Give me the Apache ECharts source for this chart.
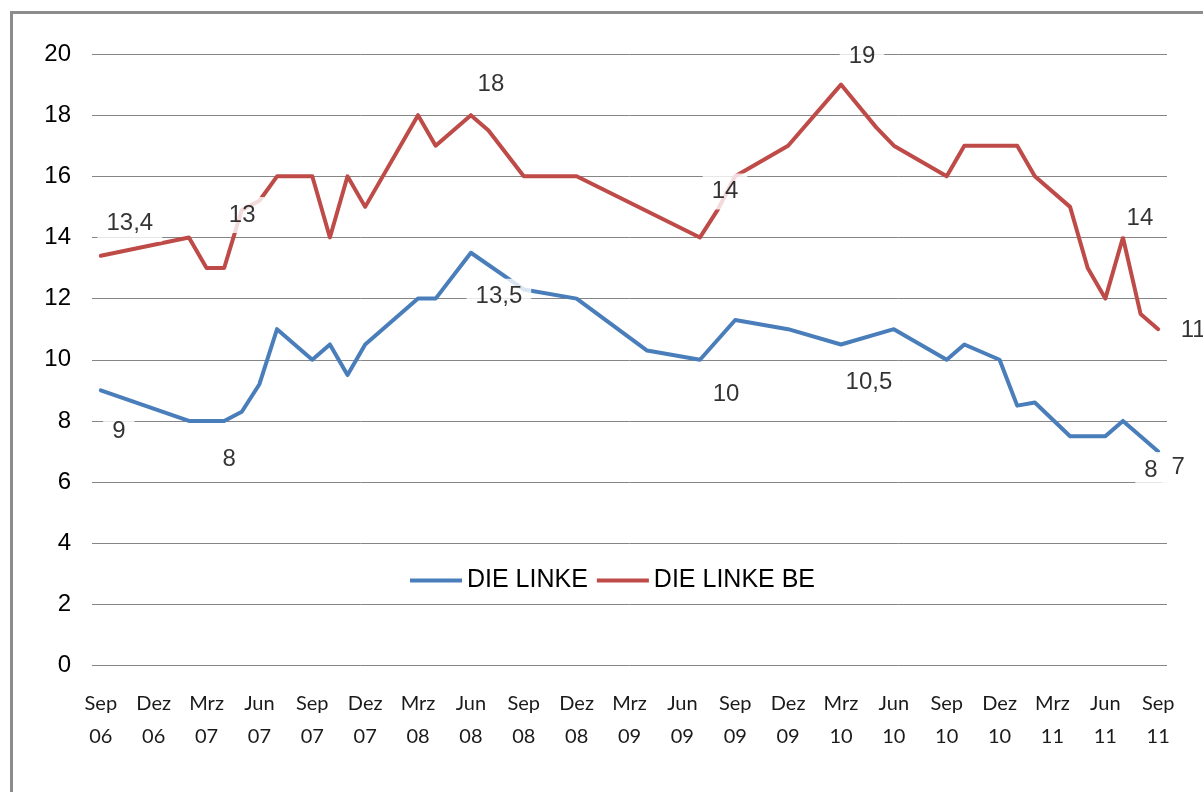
<!DOCTYPE html>
<html>
<head>
<meta charset="utf-8">
<script src="https://cdn.jsdelivr.net/npm/echarts@6/dist/echarts.min.js"></script>
<style>
  html, body { margin: 0; padding: 0; overflow: hidden; background: #fff; }
  #mychart { width: 1203px; height: 792px; }
  #rahmen { position: absolute; left: 10px; top: 11px; width: 1300px; height: 900px;
            border: 3px solid #8c8c8c; pointer-events: none; }
</style>
</head>
<body>
<div id="mychart"></div>
<div id="rahmen"></div>
<script>
// Monatsachse Sep 06 .. Sep 11
var monate = ['Jan', 'Feb', 'Mrz', 'Apr', 'Mai', 'Jun', 'Jul', 'Aug', 'Sep', 'Okt', 'Nov', 'Dez']
var startJahr = 2006, startMonat = 9, anzahlMonate = 61

// DIE LINKE (bundesweit)
var linkeMonate = ['2006-09', '2007-02', '2007-04', '2007-05', '2007-06', '2007-07', '2007-09', '2007-10',
  '2007-11', '2007-12', '2008-03', '2008-04', '2008-06', '2008-09', '2008-12', '2009-04', '2009-07',
  '2009-09', '2009-12', '2010-03', '2010-06', '2010-09', '2010-10', '2010-12', '2011-01', '2011-02',
  '2011-04', '2011-06', '2011-07', '2011-09']
var linkeWerte = [9, 8, 8, 8.3, 9.2, 11, 10, 10.5,
  9.5, 10.5, 12, 12, 13.5, 12.3, 12, 10.3, 10,
  11.3, 11, 10.5, 11, 10, 10.5, 10, 8.5, 8.6,
  7.5, 7.5, 8, 7]

// DIE LINKE Berlin
var linkeBeMonate = ['2006-09', '2007-02', '2007-03', '2007-04', '2007-05', '2007-06', '2007-07', '2007-09',
  '2007-10', '2007-11', '2007-12', '2008-03', '2008-04', '2008-06', '2008-07', '2008-09', '2008-12',
  '2009-07', '2009-08', '2009-09', '2009-12', '2010-03', '2010-05', '2010-06', '2010-09', '2010-10',
  '2011-01', '2011-02', '2011-04', '2011-05', '2011-06', '2011-07', '2011-08', '2011-09']
var linkeBeWerte = [13.4, 14, 13, 13, 14.9, 15.2, 16, 16,
  14, 16, 15, 18, 17, 18, 17.5, 16, 16,
  14, 14.9, 16, 17, 19, 17.6, 17, 16, 17,
  17, 16, 15, 13, 12, 14, 11.5, 11]

// beschriftete Punkte: Monat -> Versatz der Beschriftung [dx, dy]
var linkeLabels = {
  '2006-09': [18, 41], '2007-04': [5, 38], '2008-06': [28, 44], '2009-07': [26, 35],
  '2010-03': [28, 38], '2011-07': [28, 49], '2011-09': [20, 16]
}
var linkeBeLabels = {
  '2006-09': [29, -32], '2007-04': [18, -53], '2008-06': [20, -31], '2009-07': [25, -46],
  '2010-03': [21, -28], '2011-07': [17, -19], '2011-09': [35, 1]
}

var kategorien = []
for (var k = 0; k < anzahlMonate; k++) {
  var m = (startMonat - 1 + k) % 12
  var j = startJahr + Math.floor((startMonat - 1 + k) / 12)
  kategorien.push(monate[m] + '\n' + String(j % 100).padStart(2, '0'))
}

function monatIndex(s) {
  var t = s.split('-')
  return (parseInt(t[0]) - startJahr) * 12 + parseInt(t[1]) - startMonat
}

function reihe(mon, werte) {
  var arr = new Array(anzahlMonate).fill(null)
  mon.forEach(function (s, i) { arr[monatIndex(s)] = werte[i] })
  return arr
}

function beschriftung(mon, werte, offsets) {
  var out = []
  mon.forEach(function (s, i) {
    if (offsets[s]) {
      out.push({ value: [monatIndex(s), werte[i]], label: { offset: offsets[s] } })
    }
  })
  return out
}

var schrift = 'Liberation Sans'

var labelStil = {
  show: true,
  position: 'inside',
  fontFamily: schrift,
  fontSize: 24,
  color: '#000',
  backgroundColor: '#fff',
  padding: [6, 9, 6, 9],
  formatter: function (p) { return String(p.value[1]).replace('.', ',') }
}

var option = {
  animation: false,
  grid: { left: 92, right: 36, top: 54, bottom: 126.5, containLabel: false },
  legend: {
    data: ['DIE LINKE', 'DIE LINKE BE'],
    left: 405,
    top: 563,
    icon: 'rect',
    itemWidth: 52,
    itemHeight: 4,
    itemGap: 9,
    textStyle: { fontFamily: schrift, fontSize: 25, color: '#000' }
  },
  xAxis: {
    type: 'category',
    data: kategorien,
    boundaryGap: true,
    axisLine: { show: false },
    axisTick: { show: false },
    axisLabel: {
      interval: 2,
      margin: 22,
      fontFamily: 'Lato',
      fontSize: 20,
      lineHeight: 33,
      color: '#1a1a1a'
    }
  },
  yAxis: {
    type: 'value',
    min: 0,
    max: 20,
    interval: 2,
    axisLine: { show: false },
    axisTick: { show: false },
    axisLabel: { margin: 21, fontFamily: schrift, fontSize: 24, color: '#000' },
    splitLine: { lineStyle: { color: '#858585', width: 1 } }
  },
  series: [
    {
      name: 'DIE LINKE',
      type: 'line',
      data: reihe(linkeMonate, linkeWerte),
      connectNulls: true,
      showSymbol: false,
      symbol: 'none',
      color: '#4A7EBB',
      lineStyle: { width: 4, color: '#4A7EBB', cap: 'round', join: 'round' }
    },
    {
      name: 'DIE LINKE BE',
      type: 'line',
      data: reihe(linkeBeMonate, linkeBeWerte),
      connectNulls: true,
      showSymbol: false,
      symbol: 'none',
      color: '#BE4B48',
      lineStyle: { width: 4, color: '#BE4B48', cap: 'round', join: 'round' }
    },
    {
      type: 'scatter',
      z: 5,
      silent: true,
      symbolSize: 1,
      itemStyle: { color: 'rgba(0,0,0,0)' },
      label: labelStil,
      data: beschriftung(linkeMonate, linkeWerte, linkeLabels)
    },
    {
      type: 'scatter',
      z: 5,
      silent: true,
      symbolSize: 1,
      itemStyle: { color: 'rgba(0,0,0,0)' },
      label: labelStil,
      data: beschriftung(linkeBeMonate, linkeBeWerte, linkeBeLabels)
    }
  ]
}

var myChart = echarts.init(document.getElementById('mychart'))
myChart.setOption(option)
</script>
</body>
</html>
